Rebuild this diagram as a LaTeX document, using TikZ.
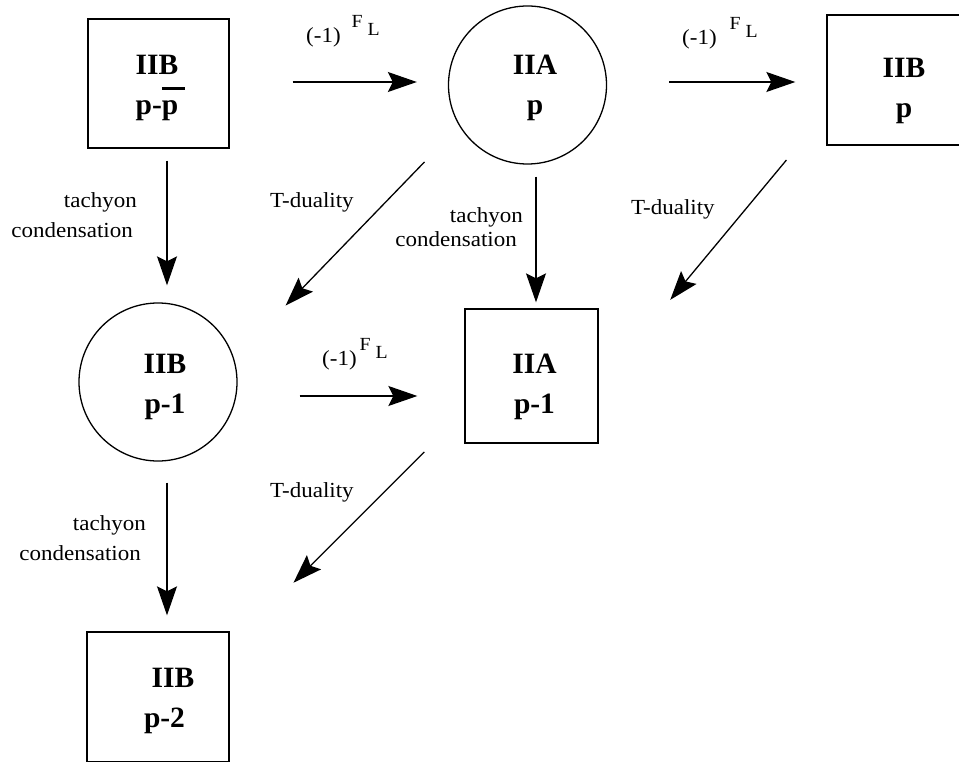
\documentclass[tikz,border=0pt]{standalone}
\usepackage{fontspec}
\setmainfont{Liberation Serif}
\newfontfamily\smallfont{Liberation Serif}[FakeStretch=1.07]
\usetikzlibrary{arrows.meta}
\newcommand{\pbar}{\rlap{\rule[24pt]{23pt}{3pt}}p}
\newcommand{\sgnFL}[1]{(-1)\hspace{#1}{\fontsize{18.5}{18.5}\selectfont\raisebox{15pt}{F}\hspace{5pt}\raisebox{7pt}{L}}}
\begin{document}
\begin{tikzpicture}
            [x=1pt,y=-1pt,
             txt/.style ={align=center,inner sep=0pt,font=\bfseries\fontsize{29.5}{40}\selectfont},
             dbox/.style ={draw,rectangle,line width=1.3pt,inner sep=0pt},
             dcirc/.style ={draw,circle,line width=1.3pt,inner sep=0pt,minimum size=158pt},
             arr/.style ={-{Stealth[length=29pt,width=20pt,inset=5pt]},line width=1.3pt},
             lbl/.style ={inner sep=0pt,font=\smallfont\fontsize{21.5}{30}\selectfont}]
            \useasboundingbox (0,0) rectangle (959,762);
            % branes
            \node[dbox,minimum width=141pt,minimum height=129pt,
                  label={[txt,xshift=-1.5pt,yshift=-4pt]center:IIB\\p-\pbar}] (bpp) at (158.5,83.5) {};
            \node[dcirc,label={[txt,xshift=7.5pt,yshift=-2.5pt]center:IIA\\p}] (iiap) at (527.5,85) {};
            \node[dbox,minimum width=154pt,minimum height=130pt,
                  label={[txt,yshift=-10.5pt]center:IIB\\p}] (iibp) at (904,80) {};
            \node[dcirc,label={[txt,xshift=7pt,yshift=-4.5pt]center:IIB\\p-1}] (iibpm) at (158,382) {};
            \node[dbox,minimum width=133pt,minimum height=134pt,
                  label={[txt,xshift=3pt,yshift=-10.5pt]center:IIA\\p-1}] (iiapm) at (531.5,376) {};
            \node[dbox,minimum width=142pt,minimum height=130pt,
                  label={[txt,xshift=6.5pt,yshift=-3.5pt]center:\hspace*{17pt}IIB\\p-2}] (iibpmm) at (158,697) {};
            % (-1)^F_L
            \draw[arr,shorten <=63pt,shorten >=31pt] (bpp.east |- 0,82) -- (iiap.west |- 0,82);
            \draw[arr,shorten <=62pt,shorten >=31pt] (iiap.east |- 0,82) -- (iibp.west |- 0,82);
            \draw[arr,shorten <=62pt,shorten >=47pt] (iibpm.east |- 0,396) -- (iiapm.west |- 0,396);
            \node[lbl,anchor=base west] (sgn1) at (306,43) {\sgnFL{11pt}};
            \node[lbl,anchor=base west] (sgn2) at (682,45) {\sgnFL{13pt}};
            \node[lbl,anchor=base west] (sgn3) at (322,365) {\sgnFL{3pt}};
            % tachyon condensation
            \draw[arr,shorten <=12pt,shorten >=17pt] (bpp.south -| 167,0) -- (iibpm.north -| 167,0);
            \draw[arr,shorten <=12pt,shorten >=6pt] (iiap.south -| 536,0) -- (iiapm.north -| 536,0);
            \draw[arr,shorten <=21pt,shorten >=16pt] (iibpm.south -| 167,0) -- (iibpmm.north -| 167,0);
            \node[lbl,align=right,anchor=base east] (tc1) at (137,238) {tachyon\\condensation\hspace*{4pt}};
            \node[lbl,align=right,anchor=base east,font=\smallfont\fontsize{21.5}{24}\selectfont] (tc2) at (523,247) {tachyon\\condensation\hspace*{6pt}};
            \node[lbl,align=right,anchor=base east] (tc3) at (146,560) {tachyon\\condensation\hspace*{5pt}};
            % T-duality
            \draw[arr,shorten <=50pt,shorten >=74pt] (iiap.211) -- (iibpm.17.5);
            \draw[arr,shorten <=62.5pt,shorten >=112pt] (iibp.west |- 0,112) -- (iiapm.east |- 0,386);
            \draw[arr,shorten <=56.6pt,shorten >=90.2pt] (iiapm.west |- 0,412) -- (iibpmm.east |- 0,646.5);
            \node[lbl,anchor=base west] (td1) at (270,208) {T-duality};
            \node[lbl,anchor=base west] (td2) at (631,215) {T-duality};
            \node[lbl,anchor=base west] (td3) at (270,497) {T-duality};
        \end{tikzpicture}
\end{document}
